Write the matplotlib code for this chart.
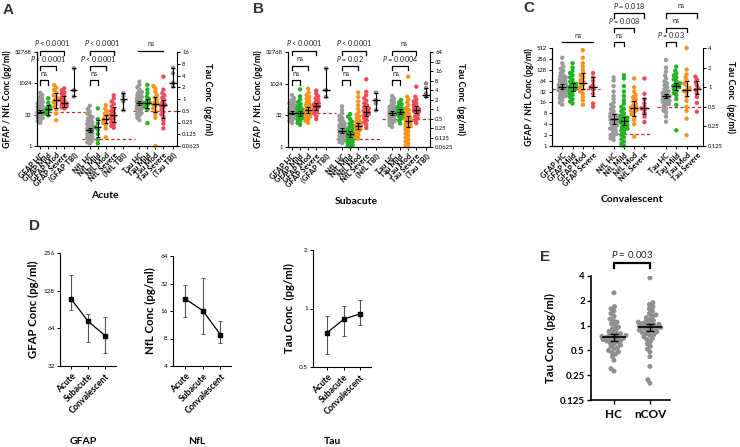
import numpy as np
import matplotlib
matplotlib.use('Agg')
import matplotlib.pyplot as plt
from matplotlib.transforms import blended_transform_factory as btf
from matplotlib.ticker import NullLocator

plt.rcParams['font.family'] = ['Lato', 'DejaVu Sans']
plt.rcParams['mathtext.fontset'] = 'custom'
plt.rcParams['mathtext.it'] = 'Lato:italic'
plt.rcParams['mathtext.rm'] = 'Lato'
plt.rcParams['axes.linewidth'] = 0.8

# ---------------- data (log2 of pg/ml for panels A-C) ----------------
acute_gfap_hc = [3.7,4.0,4.2,4.4,4.5,4.6,4.7,4.8,4.9,5.0,5.0,5.1,5.2,5.2,5.3,5.3,5.4,5.4,5.5,5.5,5.5,5.6,5.6,5.7,5.7,5.8,5.9,6.0,6.1,6.2,6.3,6.4,6.6,6.8,7.0,7.2,7.5,7.8,8.1,8.5]
acute_gfap_mild = [4.9,5.2,5.5,5.7,5.9,6.1,6.4,6.9,7.6]
acute_gfap_mod = [4.1,5.2,5.9,6.3,6.7,7.0,7.2,7.3,7.5,7.8,8.1,8.5,8.9,9.3,9.7]
acute_gfap_sev = [6.0,6.2,6.3,6.5,6.6,6.8,6.9,7.1,7.4,7.7,8.0,8.3,8.6,8.9,9.2]
acute_gfap_tbi = [7.9,8.9,12.4]
acute_gfap_med = [5.5,5.9,7.3,6.8,8.9]
acute_gfap_lo = [5.25,4.9,6.0,6.3,7.9]
acute_gfap_hi = [5.8,6.5,8.4,7.9,12.4]

acute_nfl_hc = [0.4,0.6,0.8,1.0,1.1,1.3,1.4,1.5,1.6,1.7,1.8,1.9,2.0,2.1,2.2,2.3,2.4,2.5,2.5,2.6,2.6,2.7,2.8,2.9,3.0,3.1,3.2,3.3,3.5,3.6,3.8,4.0,4.2,4.4,4.6,4.9,5.2,5.5,5.9,6.4]
acute_nfl_mild = [0.4,1.0,1.9,2.6,3.0,3.6,4.3,6.0]
acute_nfl_mod = [1.4,2.8,3.4,3.7,4.0,4.2,4.4,4.6,4.9,5.2,5.5,5.9,6.5]
acute_nfl_sev = [2.9,3.2,3.5,3.8,4.1,4.4,4.7,5.0,5.3,5.6,5.9,6.3,6.7,7.1,7.6,8.1]
acute_nfl_tbi = [5.7,7.1,7.9,8.4]
acute_nfl_med = [2.55,3.0,4.3,5.0,7.5]
acute_nfl_lo = [2.2,1.4,3.6,3.9,5.7]
acute_nfl_hi = [2.9,4.1,4.9,6.3,8.4]

acute_tau_hc = [-1.8,-1.6,-1.4,-1.3,-1.2,-1.1,-1.0,-0.9,-0.8,-0.75,-0.7,-0.6,-0.55,-0.5,-0.45,-0.4,-0.35,-0.3,-0.25,-0.2,-0.15,-0.1,0.0,0.1,0.2,0.3,0.4,0.5,0.6,0.8,1.0,1.2,1.47]
acute_tau_mild = [-2.05,-0.9,-0.7,-0.5,-0.35,-0.3,-0.2,0.0,0.2,0.5,0.8,1.2]
acute_tau_mod = [-4.0,-1.6,-1.3,-1.0,-0.8,-0.6,-0.45,-0.4,-0.3,-0.1,0.1,0.3,0.6,0.9,1.1]
acute_tau_sev = [-2.5,-2.1,-1.8,-1.5,-1.3,-1.1,-0.9,-0.7,-0.55,-0.47,-0.3,-0.1,0.1,0.3,0.5,0.8,1.9]
acute_tau_tbi = [1.05,1.39,2.19,2.66]
acute_tau_med = [-0.36,-0.3,-0.4,-0.47,1.33]
acute_tau_lo = [-0.55,-0.8,-1.1,-1.6,1.05]
acute_tau_hi = [-0.15,-0.04,0.2,-0.05,2.66]

sub_gfap_hc = [3.8,4.1,4.3,4.5,4.6,4.7,4.8,4.9,5.0,5.0,5.1,5.2,5.2,5.3,5.3,5.4,5.4,5.4,5.5,5.5,5.6,5.6,5.7,5.8,5.9,6.0,6.1,6.2,6.3,6.5,6.7,6.9,7.1,7.4,7.7,8.2]
sub_gfap_mild = [3.5,3.8,4.1,4.3,4.5,4.7,4.8,4.9,5.0,5.1,5.2,5.3,5.3,5.4,5.5,5.6,5.7,5.9,6.1,6.3,6.5,6.8,7.1,7.5,8.0,9.1]
sub_gfap_mod = [3.8,4.1,4.4,4.6,4.8,5.0,5.2,5.3,5.5,5.6,5.7,5.8,5.9,6.0,6.2,6.4,6.6,6.8,7.0,7.3,7.6,7.9,8.2,8.6,9.2]
sub_gfap_sev = [4.4,4.9,5.3,5.6,5.9,6.1,6.3,6.4,6.5,6.7,6.9,7.1,7.4,7.7,8.0,8.4,8.9]
sub_gfap_tbi = [7.9,9.0,12.4]
sub_gfap_med = [5.4,5.3,5.8,6.4,9.0]
sub_gfap_lo = [5.15,4.95,5.4,5.9,7.9]
sub_gfap_hi = [5.7,5.75,6.3,7.0,12.4]

sub_nfl_hc = [0.6,0.8,1.0,1.1,1.3,1.4,1.5,1.7,1.8,1.9,2.0,2.1,2.2,2.3,2.4,2.5,2.6,2.6,2.7,2.8,2.9,3.0,3.1,3.2,3.4,3.5,3.7,3.9,4.1,4.3,4.6,4.9,5.3,5.8,6.4]
sub_nfl_mild = [0.0,0.2,0.3,0.5,0.7,0.8,1.0,1.1,1.2,1.4,1.5,1.6,1.7,1.8,1.9,2.0,2.0,2.1,2.2,2.3,2.4,2.5,2.6,2.8,3.0,3.2,3.4,3.7,4.0,4.4,4.8,5.2]
sub_nfl_mod = [1.3,1.6,1.9,2.2,2.4,2.6,2.8,3.0,3.1,3.2,3.3,3.4,3.5,3.6,3.8,4.0,4.2,4.5,4.8,5.1,5.5,6.0,6.6,7.2,7.9,8.6]
sub_nfl_sev = [3.0,3.5,3.9,4.2,4.5,4.8,5.0,5.2,5.4,5.6,5.7,5.9,6.1,6.3,6.6,6.9,7.3,7.7,8.2,8.7,10.7]
sub_nfl_tbi = [5.8,6.9,7.4,8.6]
sub_nfl_med = [2.6,2.05,3.3,5.6,7.4]
sub_nfl_lo = [2.2,1.6,2.9,4.9,5.8]
sub_nfl_hi = [3.0,2.5,3.8,6.4,8.6]

sub_tau_hc = [-1.9,-1.7,-1.5,-1.4,-1.3,-1.2,-1.1,-1.0,-0.9,-0.8,-0.75,-0.7,-0.6,-0.55,-0.5,-0.45,-0.4,-0.35,-0.3,-0.25,-0.2,-0.1,0.0,0.1,0.2,0.3,0.5,0.7,0.9,1.1,1.37]
sub_tau_mild = [-1.5,-1.2,-1.0,-0.8,-0.7,-0.6,-0.5,-0.4,-0.35,-0.3,-0.25,-0.2,-0.1,0.0,0.1,0.2,0.35,0.5,0.7,0.95]
sub_tau_mod = [-4.0,-3.8,-3.6,-3.4,-3.2,-3.0,-2.8,-2.6,-2.4,-2.2,-2.0,-1.9,-1.8,-1.7,-1.6,-1.5,-1.4,-1.3,-1.2,-1.1,-1.0,-0.9,-0.8,-0.7,-0.5,-0.3,-0.1,0.1,0.4,0.7,1.0,1.3,3.4]
sub_tau_sev = [-1.5,-1.2,-1.0,-0.8,-0.6,-0.4,-0.3,-0.2,-0.1,0.0,0.1,0.2,0.4,0.6,0.8,1.0,1.3,2.35]
sub_tau_tbi = [1.3,1.65,2.2,2.7]
sub_tau_med = [-0.45,-0.28,-1.3,-0.1,1.5]
sub_tau_lo = [-0.65,-0.5,-1.9,-0.4,1.3]
sub_tau_hi = [-0.25,-0.05,-0.7,0.3,2.2]

conv_gfap_hc = [3.8,4.0,4.2,4.4,4.5,4.6,4.7,4.8,4.9,5.0,5.0,5.1,5.1,5.2,5.2,5.3,5.3,5.4,5.4,5.4,5.5,5.5,5.5,5.6,5.6,5.7,5.7,5.8,5.9,6.0,6.1,6.2,6.3,6.4,6.5,6.7,6.9,7.1,7.3,7.6,8.1]
conv_gfap_mild = [3.9,4.1,4.3,4.5,4.7,4.8,5.0,5.1,5.2,5.3,5.4,5.4,5.5,5.6,5.7,5.8,5.9,6.1,6.3,6.5,6.7,6.9,7.2,7.6]
conv_gfap_mod = [3.8,4.2,4.5,4.8,5.0,5.2,5.4,5.6,5.8,5.9,6.1,6.3,6.5,6.7,7.0,7.3,7.6,8.1,8.8]
conv_gfap_sev = [3.6,3.9,4.8,5.2,5.4,5.6,6.0,6.3,6.7]
conv_gfap_med = [5.45,5.4,5.8,5.4]
conv_gfap_lo = [5.25,5.05,5.2,4.6]
conv_gfap_hi = [5.65,5.75,6.7,6.3]

conv_nfl_hc = [0.55,0.7,0.9,1.0,1.1,1.2,1.4,1.5,1.6,1.7,1.8,1.9,2.0,2.1,2.2,2.3,2.4,2.4,2.5,2.5,2.6,2.7,2.8,2.9,3.0,3.2,3.4,3.6,3.8,4.0,4.3,4.6,5.0,5.5,6.0,6.3]
conv_nfl_mild = [0.0,0.2,0.4,0.6,0.8,1.0,1.2,1.4,1.5,1.6,1.7,1.8,1.9,2.0,2.1,2.2,2.3,2.3,2.4,2.5,2.6,2.7,2.8,3.0,3.2,3.4,3.6,3.9,4.2,4.6,5.0,5.5,6.2,6.5]
conv_nfl_mod = [0.85,2.0,2.4,2.7,2.9,3.1,3.2,3.3,3.4,3.5,3.6,3.7,3.9,4.1,4.3,4.5,4.7,5.0,5.4,6.2]
conv_nfl_sev = [2.2,2.7,3.0,3.3,3.45,3.6,3.9,4.3,4.8,6.2]
conv_nfl_med = [2.45,2.3,3.45,3.45]
conv_nfl_lo = [2.0,1.9,2.8,2.9]
conv_nfl_hi = [2.9,2.7,4.1,4.4]

conv_tau_hc = [-1.76,-1.5,-1.3,-1.2,-1.1,-1.0,-0.9,-0.85,-0.8,-0.75,-0.7,-0.65,-0.6,-0.55,-0.5,-0.45,-0.45,-0.4,-0.35,-0.3,-0.25,-0.2,-0.1,0.0,0.1,0.2,0.3,0.45,0.6,0.8,1.0,1.39]
conv_tau_mild = [-2.2,-0.9,-0.6,-0.4,-0.3,-0.2,-0.1,0.0,0.0,0.06,0.1,0.15,0.2,0.3,0.4,0.5,0.6,0.7,0.85,1.05]
conv_tau_mod = [-2.45,-1.6,-1.2,-1.0,-0.7,-0.5,-0.3,-0.2,-0.14,-0.05,0.1,0.2,0.35,0.5,0.65,0.9,2.0]
conv_tau_sev = [-1.25,-0.8,-0.5,-0.3,-0.15,-0.05,0.1,0.25,0.4,0.54]
conv_tau_med = [-0.45,0.06,-0.14,-0.1]
conv_tau_lo = [-0.57,-0.15,-0.45,-0.35]
conv_tau_hi = [-0.33,0.2,0.3,0.3]

# Panel D (pg/ml): mean and 95% CI
d_times = ['Acute', 'Subacute', 'Convalescent']
d_gfap_mean = [110, 73, 56]
d_gfap_lo = [90, 50, 41]
d_gfap_hi = [170, 83, 79]
d_nfl_mean = [21.7, 16.1, 8.8]
d_nfl_lo = [13.8, 8.9, 7.1]
d_nfl_hi = [30.9, 36.5, 12.5]
d_tau_mean = [0.75, 0.88, 0.94]
d_tau_lo = [0.58, 0.72, 0.82]
d_tau_hi = [0.91, 1.03, 1.10]

# Panel E (pg/ml)
e_groups = ['HC', 'nCOV']
e_tau_hc = [0.28,0.30,0.38,0.42,0.45,0.47,0.48,0.50,0.52,0.54,0.56,0.58,0.60,0.62,0.63,0.65,0.66,0.67,0.68,0.70,0.70,0.71,0.72,0.72,0.73,0.74,0.75,0.76,0.78,0.80,0.82,0.85,0.88,0.92,0.96,1.0,1.05,1.1,1.15,1.2,1.3,1.4,1.5,1.6,1.7,2.5]
e_tau_ncov = [0.2,0.22,0.32,0.42,0.48,0.52,0.56,0.6,0.64,0.68,0.7,0.73,0.76,0.78,0.8,0.82,0.84,0.86,0.88,0.9,0.92,0.94,0.95,0.95,0.96,0.98,1.0,1.02,1.04,1.06,1.08,1.1,1.12,1.15,1.2,1.25,1.3,1.35,1.4,1.5,1.6,1.7,1.8,1.9,3.8]
e_med = [0.72, 0.95]
e_lo = [0.65, 0.87]
e_hi = [0.80, 1.04]

labels5 = ['HC', 'Mild', 'Mod', 'Severe']

# ---------------- drawing ----------------
W, H = 740, 447
fig = plt.figure(figsize=(W / 100, H / 100), dpi=100)
GRAY = '#9b9b9b'; GREEN = '#22b422'; ORANGE = '#f7941d'; RED = '#ef4a5a'; DRED = '#b83232'
COLS = [GRAY, GREEN, ORANGE, RED, '#8a8a8a']


def axes_px(l, r, t, b):
    return fig.add_axes([l / W, 1 - b / H, (r - l) / W, (b - t) / H])


def swarm_x(ax, x0, yvals, d_px, maxw_px, frac=0.75):
    xy = ax.transData.transform(np.column_stack([np.full(len(yvals), float(x0)), yvals]))
    xc = xy[0, 0]
    ys = xy[:, 1]
    offs = np.zeros(len(ys))
    placed = []
    cands = sorted(np.arange(-maxw_px, maxw_px + 0.01, 0.5), key=lambda c: (abs(c), c))
    dmin = d_px * frac
    for i in np.argsort(ys):
        y = ys[i]
        near = [(px, py) for px, py in placed if abs(py - y) < dmin]
        best = None
        bestc, bests = 0.0, -1
        for c in cands:
            m = min([np.hypot(c - px, y - py) for px, py in near], default=1e9)
            if m >= dmin:
                best = c
                break
            if m > bests:
                bests, bestc = m, c
        if best is None:
            best = bestc
        offs[i] = best
        placed.append((best, y))
    return ax.transData.inverted().transform(np.column_stack([xc + offs, ys]))[:, 0]


def draw_groups(ax, xs, groups, med, lo, hi, d_px=4.0, maxw=2.5, s=10, hw=0.45):
    for x, g, c in zip(xs, groups, COLS):
        y = 2.0 ** np.asarray(g)
        px = swarm_x(ax, x, y, d_px, maxw)
        ax.scatter(px, y, s=s, c=c, edgecolors='none', zorder=2, clip_on=False)
    m = 2.0 ** np.asarray(med); l = 2.0 ** np.asarray(lo); h = 2.0 ** np.asarray(hi)
    n = len(med)
    ax.errorbar(xs[:n], m, yerr=[m - l, h - m], fmt='none', ecolor='k', elinewidth=0.8,
                capsize=1.6, capthick=0.8, zorder=4)
    ax.hlines(m, np.asarray(xs[:n]) - hw, np.asarray(xs[:n]) + hw, colors='k', lw=1.0, zorder=4)


def fmt_log_axis(ax, ticks, labels, fs=4.2):
    ax.set_yscale('log', base=2)
    ax.set_yticks(ticks)
    ax.set_yticklabels(labels, fontsize=fs)
    ax.yaxis.set_minor_locator(NullLocator())
    ax.tick_params(axis='y', length=2.5, width=0.7, pad=1.2)


def bracket(ax, x1, x2, p, text, tp, legs=True, fs=5.2):
    tr = btf(ax.transData, fig.transFigure)
    y = 1 - p / H
    yl = 1 - (p + 4.5) / H
    if legs:
        ax.plot([x1, x1, x2, x2], [yl, y, y, yl], color='k', lw=0.9, transform=tr, clip_on=False)
    else:
        ax.plot([x1, x2], [y, y], color='k', lw=0.9, transform=tr, clip_on=False)
    ax.text((x1 + x2) / 2, 1 - tp / H, text, transform=tr, ha='center', va='center',
            fontsize=fs, color='#222222')


def cutoff(ax, level_log2, x1, x2):
    ax.hlines(2.0 ** level_log2, x1, x2, colors=DRED, linestyles=(0, (2.6, 2.0)), lw=0.9, zorder=1)


def big_panel(box, xlim, pos, names, gd, tau, gm, tm, lticks, ltl, rticks, rtl, cuts, maxw=2.5, hw=0.45):
    ax = axes_px(*box)
    ax.set_xlim(*xlim)
    fmt_log_axis(ax, lticks, ltl)
    ax.set_ylim(lticks[0], lticks[-1])
    ax2 = ax.twinx()
    fmt_log_axis(ax2, rticks, rtl)
    ax2.set_ylim(rticks[0], rticks[-1])
    ax2.set_xlim(*xlim)
    for a in (ax, ax2):
        a.spines['top'].set_visible(False)
    ax.spines['right'].set_visible(False)
    (gfap, nfl) = gd
    draw_groups(ax, pos[0], gfap, *gm[0], maxw=maxw, hw=hw)
    draw_groups(ax, pos[1], nfl, *gm[1], maxw=maxw, hw=hw)
    draw_groups(ax2, pos[2], tau, *tm, maxw=maxw, hw=hw)
    cutoff(ax, *cuts[0]); cutoff(ax, *cuts[1]); cutoff(ax2, *cuts[2])
    allpos = pos[0] + pos[1] + pos[2]
    ax.set_xticks(allpos)
    ax.set_xticklabels(names, rotation=45, ha='right', rotation_mode='anchor',
                       fontsize=5.4, fontweight='bold')
    ax.tick_params(axis='x', length=2.5, width=0.7, pad=1.5)
    ax.set_ylabel('GFAP / NfL Conc (pg/ml)', fontsize=6.3, fontweight='bold', labelpad=2)
    ax2.set_ylabel('Tau Conc  (pg/ml)', fontsize=6.6, fontweight='bold', rotation=270, labelpad=9)
    return ax, ax2


def names_for(with_tbi):
    out = []
    for m in ['GFAP', 'NfL', 'Tau']:
        out += [f'{m} {l}' for l in labels5]
        if with_tbi:
            out.append(f'({m} TBI)')
    return out


L15 = [1, 32, 1024, 32768]
L15t = ['1', '32', '1024', '32768']

# Panel A
posA = [[0, 1, 2, 3, 4.2], [6.2, 7.2, 8.2, 9.2, 10.4], [12.4, 13.4, 14.4, 15.4, 16.6]]
rA = [2.0 ** k for k in range(-4, 5)]
rAt = ['0.0625', '0.125', '0.25', '0.5', '1', '2', '4', '8', '16']
axA, axA2 = big_panel((37, 177, 52, 146), (-0.4, 17.1), posA, names_for(True),
                      ([acute_gfap_hc, acute_gfap_mild, acute_gfap_mod, acute_gfap_sev, acute_gfap_tbi],
                       [acute_nfl_hc, acute_nfl_mild, acute_nfl_mod, acute_nfl_sev, acute_nfl_tbi]),
                      [acute_tau_hc, acute_tau_mild, acute_tau_mod, acute_tau_sev, acute_tau_tbi],
                      [(acute_gfap_med, acute_gfap_lo, acute_gfap_hi), (acute_nfl_med, acute_nfl_lo, acute_nfl_hi)],
                      (acute_tau_med, acute_tau_lo, acute_tau_hi),
                      L15, L15t, rA, rAt,
                      [(5.47, -0.4, 5.6), (1.1, 5.2, 11.9), (-1.0, 11.6, 17.1)])
for b in (0, 6.2):
    bracket(axA, b, b + 3, 50.5, r'$P$ < 0.0001', 43.3)
    bracket(axA, b, b + 2, 65.5, r'$P$ < 0.0001', 58.5)
    bracket(axA, b, b + 1, 80, 'ns', 73.3)
bracket(axA, 12.2, 15.4, 50.5, 'ns', 43.3, legs=False)

# Panel B
rB = [2.0 ** k for k in range(-4, 7)]
rBt = ['0.0625', '0.125', '0.25', '0.5', '1', '2', '4', '8', '16', '32', '64']
axB, axB2 = big_panel((288, 430, 52, 147), (-0.5, 17.1), posA, names_for(True),
                      ([sub_gfap_hc, sub_gfap_mild, sub_gfap_mod, sub_gfap_sev, sub_gfap_tbi],
                       [sub_nfl_hc, sub_nfl_mild, sub_nfl_mod, sub_nfl_sev, sub_nfl_tbi]),
                      [sub_tau_hc, sub_tau_mild, sub_tau_mod, sub_tau_sev, sub_tau_tbi],
                      [(sub_gfap_med, sub_gfap_lo, sub_gfap_hi), (sub_nfl_med, sub_nfl_lo, sub_nfl_hi)],
                      (sub_tau_med, sub_tau_lo, sub_tau_hi),
                      L15, L15t, rB, rBt,
                      [(5.3, -0.5, 5.5), (1.26, 5.5, 11.1), (-1.1, 11.2, 17.1)])
for b, t1, t2, t3 in [(0, r'$P$ < 0.0001', 'ns', 'ns'),
                      (6.2, r'$P$ < 0.0001', r'$P$ = 0.02', 'ns'),
                      (12.4, 'ns', r'$P$ = 0.0004', 'ns')]:
    bracket(axB, b, b + 3, 50.5, t1, 43.3)
    bracket(axB, b, b + 2, 65.5, t2, 58.5)
    bracket(axB, b, b + 1, 80, t3, 73.3)

# Panel C
posC = [[0, 1, 2, 3], [5, 6, 7, 8], [10.1, 11.1, 12.1, 13.1]]
lC = [2 ** k for k in range(0, 10)]
lCt = [str(v) for v in lC]
rC = [2.0 ** k for k in range(-3, 3)]
rCt = ['0.125', '0.25', '0.5', '1', '2', '4']
axC, axC2 = big_panel((552, 703, 48, 146), (-1.0, 13.7), posC, names_for(False),
                      ([conv_gfap_hc, conv_gfap_mild, conv_gfap_mod, conv_gfap_sev],
                       [conv_nfl_hc, conv_nfl_mild, conv_nfl_mod, conv_nfl_sev]),
                      [conv_tau_hc, conv_tau_mild, conv_tau_mod, conv_tau_sev],
                      [(conv_gfap_med, conv_gfap_lo, conv_gfap_hi), (conv_nfl_med, conv_nfl_lo, conv_nfl_hi)],
                      (conv_tau_med, conv_tau_lo, conv_tau_hi),
                      lC, lCt, rC, rCt,
                      [(5.2, -1.0, 3.7), (1.1, 4.85, 8.7), (-1.0, 9.2, 13.7)], maxw=3.5, hw=0.4)
bracket(axC, 0, 3, 41.7, 'ns', 35, legs=False)
for b, t1, t2, t3 in [(5, r'$P$ = 0.018', r'$P$ = 0.008', 'ns'),
                      (10.1, 'ns', 'ns', r'$P$ = 0.03')]:
    bracket(axC, b, b + 3, 13.3, t1, 6)
    bracket(axC, b, b + 2, 27.5, t2, 20.5)
    bracket(axC, b, b + 1, 41.7, t3, 35)


# Panel D
def d_panel(box, xlim, mean, lo, hi, ylim, ticks, tl, ylabel):
    ax = axes_px(*box)
    x = np.arange(3)
    ax.set_xlim(*xlim)
    fmt_log_axis(ax, ticks, tl, fs=4.6)
    ax.set_ylim(*ylim)
    m = np.asarray(mean, float)
    ax.errorbar(x, m, yerr=[m - np.asarray(lo), np.asarray(hi) - m], color='k', lw=0.9,
                marker='s', ms=2.2, ecolor='#555555', elinewidth=0.8, capsize=1.3, capthick=0.7)
    for s in ('top', 'right'):
        ax.spines[s].set_visible(False)
    ax.set_xticks(x)
    ax.set_xticklabels(d_times, rotation=45, ha='right', rotation_mode='anchor',
                       fontsize=6.3, fontweight='bold')
    ax.tick_params(axis='x', length=2.5, width=0.7, pad=1.5)
    ax.set_ylabel(ylabel, fontsize=8.2, fontweight='bold', labelpad=3)
    return ax


d_panel((60, 116, 253, 366), (-0.65, 2.65), d_gfap_mean, d_gfap_lo, d_gfap_hi, (32, 256),
        [32, 64, 128, 256], ['32', '64', '128', '256'], 'GFAP Conc (pg/ml)')
d_panel((173, 231, 256, 366), (-0.7, 2.6), d_nfl_mean, d_nfl_lo, d_nfl_hi, (4, 64),
        [4, 8, 16, 32, 64], ['4', '8', '16', '32', '64'], 'NfL Conc (pg/ml)')
d_panel((313, 371, 250, 367), (-0.85, 2.65), d_tau_mean, d_tau_lo, d_tau_hi, (0.5, 2),
        [0.5, 1, 2], ['0.5', '1', '2'], 'Tau Conc  (pg/ml)')
for t, x in [('GFAP', 83), ('NfL', 197), ('Tau', 332)]:
    fig.text(x / W, 1 - 442 / H, t, ha='center', va='center', fontsize=7.5, fontweight='bold')

# Panel E
axE = axes_px(591, 670, 276, 400)
axE.set_xlim(-0.64, 1.56)
fmt_log_axis(axE, [0.125, 0.25, 0.5, 1, 2, 4], ['0.125', '0.25', '0.5', '1', '2', '4'], fs=7)
axE.set_ylim(0.125, 4)
for t in axE.get_yticklabels():
    t.set_fontweight('bold')
for s in ('top', 'right'):
    axE.spines[s].set_visible(False)
for s in ('left', 'bottom'):
    axE.spines[s].set_linewidth(1.2)
for i, g in enumerate([e_tau_hc, e_tau_ncov]):
    px = swarm_x(axE, i, np.asarray(g), 5.0, 12)
    axE.scatter(px, g, s=13, c='#8f8f8f', edgecolors='none', zorder=2)
em = np.asarray(e_med)
axE.errorbar([0, 1], em, yerr=[em - np.asarray(e_lo), np.asarray(e_hi) - em], fmt='none',
             ecolor='k', elinewidth=1.0, capsize=3, capthick=1.0, zorder=4)
axE.hlines(em, np.array([0, 1]) - 0.34, np.array([0, 1]) + 0.34, colors='k', lw=1.2, zorder=4)
axE.set_xticks([0, 1])
axE.set_xticklabels(e_groups, fontsize=8.5, fontweight='bold')
axE.tick_params(axis='both', length=3, width=1.0)
axE.tick_params(axis='y', length=3, pad=1.5)
axE.set_ylabel('Tau Conc  (pg/ml)', fontsize=8.2, fontweight='bold', labelpad=3)
bracket(axE, 0, 1, 263, r'$P$ = 0.003', 254.5, fs=7)
axE.lines[-1].set_linewidth(1.6)

# axis titles & panel letters
fig.text(105 / W, 1 - 196 / H, 'Acute', ha='center', va='center', fontsize=7.5, fontweight='bold')
fig.text(356 / W, 1 - 202 / H, 'Subacute', ha='center', va='center', fontsize=7.5, fontweight='bold')
fig.text(632 / W, 1 - 200 / H, 'Convalescent', ha='center', va='center', fontsize=7.5, fontweight='bold')
for t, x, y in [('A', 8, 10), ('B', 259, 9), ('C', 529, 8), ('D', 34, 226), ('E', 545, 257)]:
    fig.text(x / W, 1 - y / H, t, ha='center', va='center', fontsize=11, fontweight='bold',
             family=['Liberation Sans', 'DejaVu Sans'], color='#333333')

fig.savefig('out.png', dpi=100)
